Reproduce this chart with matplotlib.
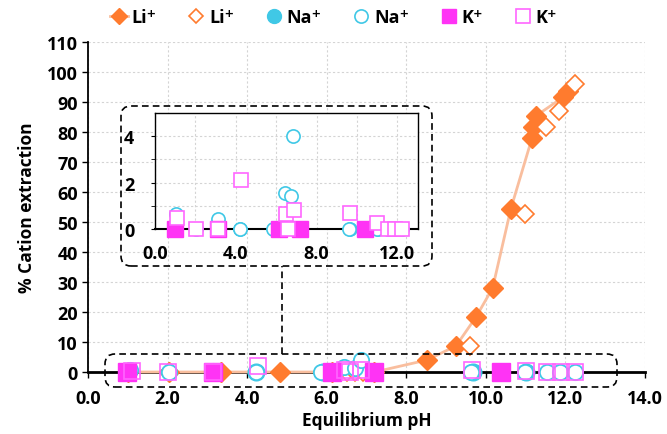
import numpy as np
import matplotlib.pyplot as plt
from matplotlib.lines import Line2D
from matplotlib.patches import FancyBboxPatch

# Li+ (filled = series 1, open = series 2)
li_ph = [1.0, 2.04, 3.35, 4.82, 6.14, 7.2, 8.52, 9.25, 9.76, 10.17, 10.63, 11.16, 11.19, 11.26, 11.94, 12.07]
li_ext = [0, 0, 0, 0, 0, 0, 4, 8.7, 18.5, 28, 54.5, 78, 81.6, 85.4, 91.6, 93.8]
li2_ph = [2.04, 6.5, 6.7, 6.9, 9.6, 10.98, 11.52, 11.84, 12.24]
li2_ext = [0, 0, 0, 0, 8.8, 52.7, 81.6, 86.9, 96]

# Na+
na_ph = [1.0, 4.22, 5.9, 9.67, 11.02]
na_ext = [0, 0, 0, 0, 0]
na2_ph = [1.06, 2.04, 3.14, 4.22, 5.85, 6.44, 6.72, 6.85, 9.62, 10.98, 11.54, 11.86, 12.24]
na2_ext = [0.64, 0, 0.43, 0, 0, 1.57, 1.43, 4.03, 0, 0, 0, 0, 0]

# K+
k_ph = [0.97, 3.14, 6.14, 7.2, 10.39]
k_ext = [0, 0, 0, 0, 0]
k2_ph = [1.1, 2.02, 3.14, 4.27, 6.47, 6.59, 6.86, 9.64, 11.0, 11.54, 11.88, 12.25]
k2_ext = [0.5, 0, 0, 2.1, 0.64, 0, 0.82, 0.71, 0.26, 0, 0, 0]

LI = '#FF7B2E'
LI_LINE = '#F9BE9E'
NA = '#40C8E6'
K = '#FF33F5'
K_OPEN = '#FF66FF'

FONT = ['Open Sans', 'DejaVu Sans']
plt.rcParams['font.family'] = FONT
plt.rcParams['font.weight'] = 'bold'

fig = plt.figure(figsize=(6.67, 4.35), dpi=100)
ax = fig.add_axes([0.132, 0.1425, 0.835, 0.7585])

ax.plot(li_ph, li_ext, '-', color=LI_LINE, lw=2, zorder=3, clip_on=False)
ax.plot(li_ph, li_ext, 'D', ms=10, color=LI, mec=LI, zorder=4, clip_on=False)
ax.plot(li2_ph, li2_ext, 'D', ms=9.5, mfc='white', mec=LI, mew=1.2, zorder=5, clip_on=False)
ax.plot(na_ph, na_ext, 'o', ms=12, color=NA, zorder=6, clip_on=False)
ax.plot(na2_ph, na2_ext, 'o', ms=11, mfc='white', mec=NA, mew=1.3, zorder=7, clip_on=False)
ax.plot(k_ph, k_ext, 's', ms=13, color=K, zorder=8, clip_on=False)
ax.plot(k2_ph, k2_ext, 's', ms=11, mfc='none', mec=K_OPEN, mew=1.2, zorder=9, clip_on=False)

ax.set_xlim(0, 14)
ax.set_ylim(0, 110)
ax.set_xticks(np.arange(0, 15, 2))
ax.set_xticklabels([f'{v:.1f}' for v in np.arange(0, 15, 2)])
ax.set_yticks(np.arange(0, 111, 10))
ax.tick_params(labelsize=13, length=4, width=1)
ax.tick_params(axis='x', pad=8)
ax.grid(True, color='#D4D4D4', lw=0.8, linestyle=(0, (2, 2)))
ax.set_axisbelow(True)
for s in ['top', 'right']:
    ax.spines[s].set_visible(False)
ax.spines['left'].set_linewidth(1.3)
ax.spines['bottom'].set_linewidth(2)
ax.set_xlabel('Equilibrium pH', fontsize=12.5, fontweight='bold', labelpad=3)
ax.set_ylabel('% Cation extraction', fontsize=12.5, fontweight='bold', labelpad=8)

# inset zoom on the low-extraction region
ins = fig.add_axes([0.2325, 0.471, 0.3935, 0.267])
ins.plot(na_ph, na_ext, 'o', ms=9.5, color=NA, zorder=6, clip_on=False)
ins.plot(na2_ph, na2_ext, 'o', ms=9.5, mfc='white', mec=NA, mew=1.2, zorder=7, clip_on=False)
ins.plot(k_ph, k_ext, 's', ms=11, color=K, zorder=8, clip_on=False)
ins.plot(k2_ph, k2_ext, 's', ms=9.5, mfc='white', mec=K_OPEN, mew=1.2, zorder=9, clip_on=False)
ins.set_xlim(0, 13)
ins.set_ylim(0, 5)
ins.set_xticks([0, 4, 8, 12])
ins.set_xticks([2, 6, 10], minor=True)
ins.set_xticklabels(['0.0', '4.0', '8.0', '12.0'])
ins.set_yticks([0, 2, 4])
ins.set_yticks([1, 3], minor=True)
ins.tick_params(labelsize=13, length=3)
ins.tick_params(axis='x', which='both', length=0, pad=11)
ins.tick_params(axis='y', which='minor', length=3)
ins.tick_params(axis='y', which='major', pad=12)
ins.grid(True, which='both', color='#D4D4D4', lw=0.8, linestyle=(0, (2, 2)))
ins.set_axisbelow(True)
for s in ins.spines.values():
    s.set_linewidth(1)
ins.spines['bottom'].set_linewidth(1.5)

# dashed callout boxes, in inches so the corners stay round
box_kw = dict(boxstyle='round,pad=0,rounding_size=0.1', fill=False, ec='black',
              lw=1.2, linestyle=(0, (4, 2.5)), transform=fig.dpi_scale_trans)
fig.patches.append(FancyBboxPatch((1.05, 0.47), 5.12, 0.33, zorder=10, **box_kw))
fig.patches.append(FancyBboxPatch((1.21, 1.68), 3.11, 1.60, zorder=10, **box_kw))
fig.lines.append(Line2D([2.82, 2.82], [0.80, 1.68], color='black', lw=1.2,
                        linestyle=(0, (4, 2.5)), transform=fig.dpi_scale_trans))

handles = [
    Line2D([], [], color=LI_LINE, lw=2, marker='D', ms=8, mfc=LI, mec=LI),
    Line2D([], [], ls='none', marker='D', ms=7.5, mfc='white', mec=LI, mew=1.2),
    Line2D([], [], ls='none', marker='o', ms=10, color=NA),
    Line2D([], [], ls='none', marker='o', ms=9.5, mfc='white', mec=NA, mew=1.2),
    Line2D([], [], ls='none', marker='s', ms=9.5, color=K),
    Line2D([], [], ls='none', marker='s', ms=9.5, mfc='white', mec=K_OPEN, mew=1.2),
]
labels = ['Li⁺', 'Li⁺', 'Na⁺', 'Na⁺', 'K⁺', 'K⁺']
fig.legend(handles, labels, loc='center', bbox_to_anchor=(0.5, 0.958), ncol=6,
           frameon=False, handlelength=1.0, handletextpad=0.2, columnspacing=1.7,
           prop={'size': 13, 'weight': 'bold', 'family': FONT})

fig.savefig('out.png', dpi=100)
